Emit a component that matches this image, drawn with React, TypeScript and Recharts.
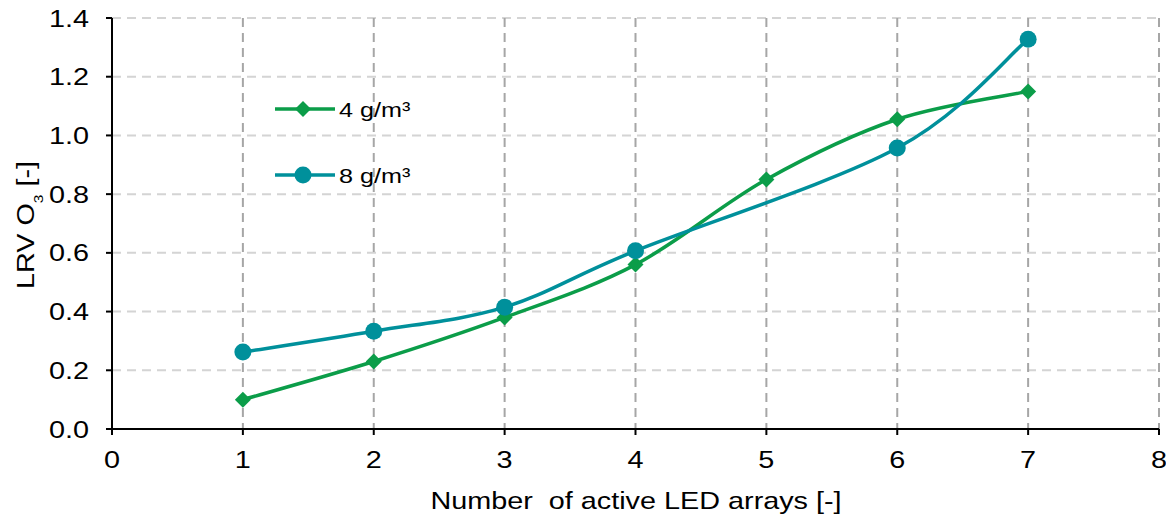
import React from 'react';
import { LineChart, Line, XAxis, YAxis, CartesianGrid, Legend } from 'recharts';

const arrays = [1, 2, 3, 4, 5, 6, 7];
const lrv4 = [0.1, 0.23, 0.38, 0.56, 0.85, 1.055, 1.15];
const lrv8: (number | null)[] = [0.262, 0.333, 0.415, 0.607, null, 0.957, 1.328];
const xTicks = [0, 1, 2, 3, 4, 5, 6, 7, 8];
const yTicks = [0, 0.2, 0.4, 0.6, 0.8, 1.0, 1.2, 1.4];
const seriesNames = ['4 g/m³', '8 g/m³'];

const GREEN = '#0B9D49';
const TEAL = '#00909B';
const FONT = '"Liberation Sans", Arial, sans-serif';
const SX = 1.2;

const data = arrays.map((x, i) => ({ x, a: lrv4[i], b: lrv8[i] }));

// Excel-like smoothing curve (Catmull-Rom as cubic Bezier)
const excelCurve: any = (context: any) => {
  let pts: number[][] = [];
  return {
    areaStart() {},
    areaEnd() {},
    lineStart() {
      pts = [];
    },
    point(x: number, y: number) {
      pts.push([+x, +y]);
    },
    lineEnd() {
      const n = pts.length;
      if (!n) return;
      context.moveTo(pts[0][0], pts[0][1]);
      for (let i = 0; i < n - 1; i++) {
        const p0 = pts[Math.max(i - 1, 0)];
        const p1 = pts[i];
        const p2 = pts[i + 1];
        const p3 = pts[Math.min(i + 2, n - 1)];
        const c1x = p1[0] + (p2[0] - p0[0]) / 6;
        const c1y = p1[1] + (p2[1] - p0[1]) / 6;
        const c2x = p2[0] - (p3[0] - p1[0]) / 6;
        const c2y = p2[1] - (p3[1] - p1[1]) / 6;
        context.bezierCurveTo(c1x, c1y, c2x, c2y, p2[0], p2[1]);
      }
    },
  };
};

const Diamond = (props: any) => {
  const { cx, cy } = props;
  if (cx == null || cy == null || props.value == null) return null;
  const r = 8;
  return (
    <path
      d={`M${cx},${cy - r}L${cx + r},${cy}L${cx},${cy + r}L${cx - r},${cy}Z`}
      fill={GREEN}
      stroke="none"
    />
  );
};

const Circle = (props: any) => {
  const { cx, cy } = props;
  if (cx == null || cy == null || props.value == null) return null;
  return <circle cx={cx} cy={cy} r={8.5} fill={TEAL} stroke="none" />;
};

const XTick = (props: any) => {
  const { x, y, payload } = props;
  return (
    <g transform={`translate(${x},${y}) scale(${SX},1)`}>
      <text x={0} y={0} dy={17} textAnchor="middle" fontFamily={FONT} fontSize={24} fill="#000">
        {payload.value}
      </text>
    </g>
  );
};

const YTick = (props: any) => {
  const { x, y, payload } = props;
  return (
    <g transform={`translate(${x},${y}) scale(${SX},1)`}>
      <text x={0} y={0} dy={8.5} textAnchor="end" fontFamily={FONT} fontSize={24} fill="#000">
        {Number(payload.value).toFixed(1)}
      </text>
    </g>
  );
};

const LegendText = ({ x, y, label }: { x: number; y: number; label: string }) => (
  <g transform={`translate(${x},${y}) scale(${SX},1)`}>
    <text x={0} y={0} fontFamily={FONT} fontSize={21} fill="#000">
      {label}
    </text>
  </g>
);

const renderLegend = () => (
  <svg width={160} height={100} style={{ overflow: 'visible' }}>
    <line x1={5} x2={65} y1={19} y2={19} stroke={GREEN} strokeWidth={3.5} />
    <path d="M33,11L41,19L33,27L25,19Z" fill={GREEN} />
    <LegendText x={69} y={27} label={seriesNames[0]} />
    <line x1={5} x2={65} y1={85} y2={85} stroke={TEAL} strokeWidth={3.5} />
    <circle cx={33} cy={85} r={8.5} fill={TEAL} />
    <LegendText x={69} y={93} label={seriesNames[1]} />
  </svg>
);

const YLabel = () => (
  <g transform={`translate(34,225) rotate(-90) scale(${SX},1)`}>
    <text x={0} y={0} textAnchor="middle" fontFamily={FONT} fontSize={24} fill="#000">
      LRV O
      <tspan dy={9} fontSize={13}>
        3
      </tspan>
      <tspan dy={-9}> [-]</tspan>
    </text>
  </g>
);

const XLabel = () => (
  <g transform={`translate(636,509) scale(${SX},1)`}>
    <text
      x={0}
      y={0}
      textAnchor="middle"
      fontFamily={FONT}
      fontSize={24}
      fill="#000"
      style={{ whiteSpace: 'pre' }}
    >
      {'Number  of active LED arrays [-]'}
    </text>
  </g>
);

export default function App() {
  return (
    <div style={{ position: 'absolute', left: 0, top: 0, width: 1166, height: 518, background: '#fff' }}>
      <LineChart
        width={1166}
        height={518}
        data={data}
        margin={{ top: 18, right: 7, left: 0, bottom: 0 }}
      >
        <CartesianGrid
          horizontal={true}
          vertical={false}
          stroke="#D4D4D4"
          strokeWidth={2}
          strokeDasharray="9 6"
        />
        <CartesianGrid
          horizontal={false}
          vertical={true}
          stroke="#A6A6A6"
          strokeWidth={2}
          strokeDasharray="9 6"
        />
        <XAxis
          dataKey="x"
          type="number"
          domain={[0, 8]}
          ticks={xTicks}
          interval={0}
          height={89}
          axisLine={{ stroke: '#000', strokeWidth: 2 }}
          tickLine={{ stroke: '#000', strokeWidth: 2 }}
          tickSize={6}
          tickMargin={16}
          tick={<XTick />}
          label={<XLabel />}
        />
        <YAxis
          type="number"
          domain={[0, 1.4]}
          ticks={yTicks}
          interval={0}
          width={112}
          axisLine={{ stroke: '#000', strokeWidth: 2 }}
          tickLine={{ stroke: '#000', strokeWidth: 2 }}
          tickSize={6}
          tickMargin={17}
          tick={<YTick />}
          label={<YLabel />}
        />
        <Legend
          layout="vertical"
          align="center"
          verticalAlign="middle"
          content={renderLegend}
          wrapperStyle={{ position: 'absolute', left: 270, top: 90, width: 160, height: 100 }}
        />
        <Line
          dataKey="a"
          name={seriesNames[0]}
          type={excelCurve}
          stroke={GREEN}
          strokeWidth={3.5}
          dot={<Diamond />}
          activeDot={false}
          isAnimationActive={false}
        />
        <Line
          dataKey="b"
          name={seriesNames[1]}
          type={excelCurve}
          stroke={TEAL}
          strokeWidth={3.5}
          dot={<Circle />}
          activeDot={false}
          connectNulls
          isAnimationActive={false}
        />
      </LineChart>
    </div>
  );
}
